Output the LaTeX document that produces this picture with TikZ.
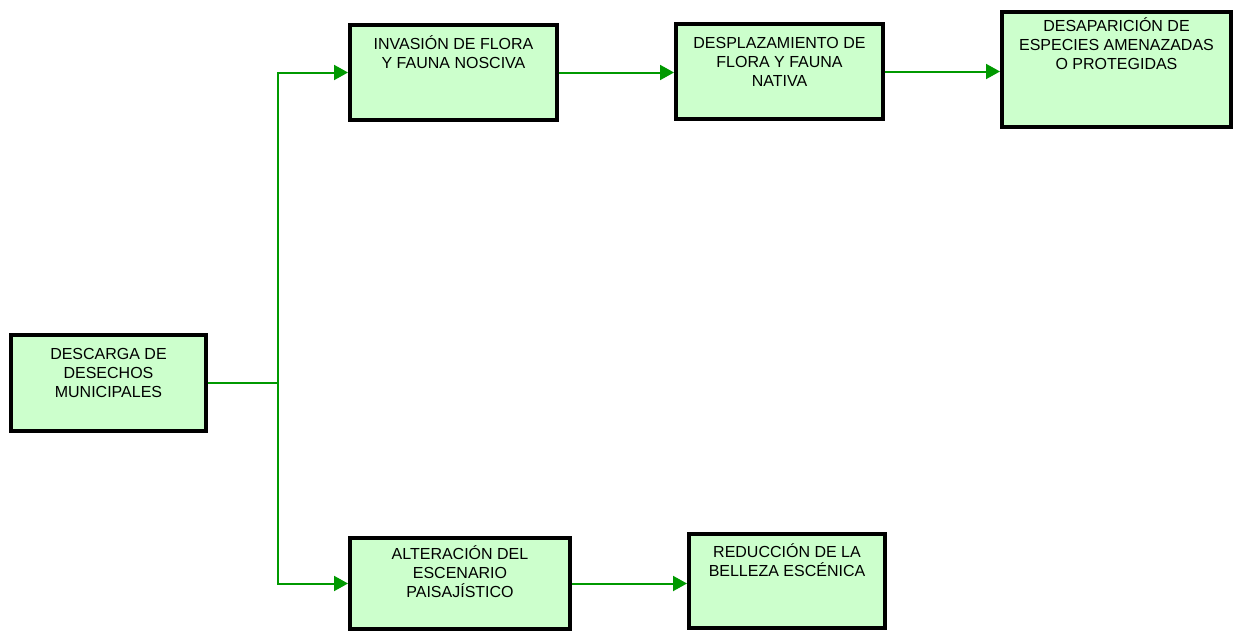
\documentclass[tikz,border=0pt]{standalone}
\usepackage{fontspec}
\setmainfont{Liberation Sans}
\usetikzlibrary{arrows.meta}
\definecolor{verdecaja}{HTML}{CCFFCC}
\definecolor{verdelinea}{HTML}{009900}

\begin{document}
\begin{tikzpicture}[x=1pt, y=-1pt,
	caja/.style = {draw, line width=4pt, fill=verdecaja, inner sep=0pt},
	texto/.style = {anchor=base, align=center, inner sep=0pt, font=\fontsize{16}{19}\selectfont},
	flecha/.style = {draw=verdelinea, line width=2pt, -{Triangle[length=14pt, width=15pt]}}]
	\useasboundingbox (0,0) rectangle (1235,632);
	% cajas
	\node[caja, minimum width=195, minimum height=96] (1) at (108.5,383) {};
	\node[caja, minimum width=207, minimum height=95] (2) at (453.5,72.5) {};
	\node[caja, minimum width=207, minimum height=95] (3) at (779.5,71.5) {};
	\node[caja, minimum width=229, minimum height=115] (4) at (1116.5,69.5) {};
	\node[caja, minimum width=220, minimum height=91] (5) at (460,583.5) {};
	\node[caja, minimum width=196, minimum height=94] (6) at (787,581) {};
	% textos (base = ultima linea)
	\node[texto] (1t) at ([yshift=-64pt]1.north) {DESCARGA DE\\DESECHOS\\MUNICIPALES};
	\node[texto] (2t) at ([yshift=-45pt]2.north) {INVASIÓN DE FLORA\\Y FAUNA NOSCIVA};
	\node[texto] (3t) at ([yshift=-64pt]3.north) {DESPLAZAMIENTO DE\\FLORA Y FAUNA\\NATIVA};
	\node[texto] (4t) at ([yshift=-59pt]4.north) {DESAPARICIÓN DE\\ESPECIES AMENAZADAS\\O PROTEGIDAS};
	\node[texto] (5t) at ([yshift=-61pt]5.north) {ALTERACIÓN DEL\\ESCENARIO\\PAISAJÍSTICO};
	\node[texto] (6t) at ([yshift=-44pt]6.north) {REDUCCIÓN DE LA\\BELLEZA ESCÉNICA};
	% conexiones
	\coordinate (j) at (278,383);
	\draw[verdelinea, line width=2pt] (1) -- (j);
	\draw[flecha] (j) |- (2);
	\draw[flecha] (j) |- (5);
	\draw[flecha] (2.east) -- (2.east -| 3.west);
	\draw[flecha] (3.east) -- (3.east -| 4.west);
	\draw[flecha] (5.east) -- (5.east -| 6.west);
\end{tikzpicture}
\end{document}
